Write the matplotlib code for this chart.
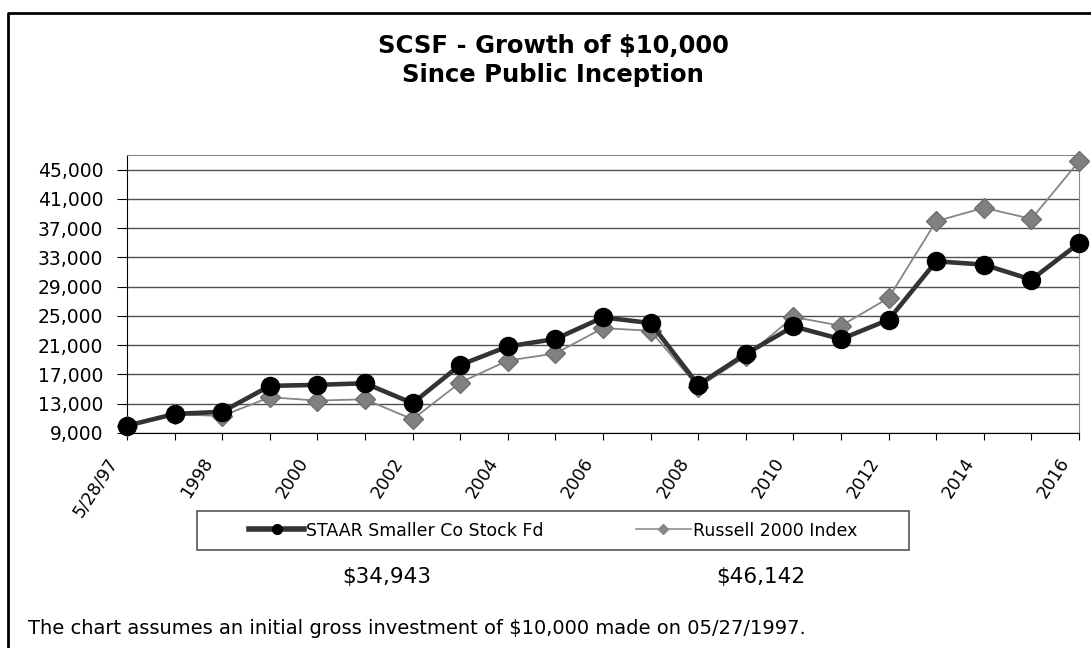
import matplotlib.pyplot as plt
from matplotlib.lines import Line2D
from matplotlib.patches import Rectangle
from matplotlib.ticker import FuncFormatter
from matplotlib.transforms import ScaledTranslation

plt.rcParams['font.family'] = ['DejaVu Sans']

periods = ['5/28/97'] + [str(y) for y in range(1997, 2017)]
staar = [10000, 11600, 11900, 15440, 15580, 15800, 13070, 18300, 20830, 21850,
         24800, 24030, 15580, 19820, 23570, 21830, 24480, 32470, 32020, 29960, 34943]
russell = [10000, 11550, 11330, 13890, 13430, 13610, 10870, 15900, 18900, 19870,
           23340, 22970, 15260, 19460, 24850, 23660, 27450, 37950, 39780, 38270, 46142]
y_ticks = list(range(9000, 45001, 4000))
end_values = ['$34,943', '$46,142']


def main():
    W, H = 1091, 648
    fig = plt.figure(figsize=(W / 100, H / 100), dpi=100)
    ax = fig.add_axes([127 / W, 1 - 433 / H, (1079 - 127) / W, (433 - 155) / H])

    x = list(range(len(periods)))
    ax.plot(x, russell, color='#858585', lw=1.3, marker='D', ms=10,
            mfc='#808080', mec='#6e6e6e', zorder=3, clip_on=False)
    ax.plot(x, staar, color='#333333', lw=3.3, marker='o', ms=13,
            mfc='black', mec='black', zorder=4, clip_on=False)

    ax.set_xlim(0, len(periods) - 1)
    ax.set_ylim(9000, 47000)
    ax.set_yticks(y_ticks)
    ax.yaxis.set_major_formatter(FuncFormatter(lambda v, p: '{:,.0f}'.format(v)))
    ax.grid(axis='y', color='#505050', lw=1)
    ax.set_axisbelow(True)

    ax.set_xticks(x)
    ax.set_xticklabels([p if i % 2 == 0 else '' for i, p in enumerate(periods)],
                       rotation=57, ha='right', va='center', rotation_mode='anchor')
    ax.tick_params(axis='x', direction='out', length=5, labelsize=12.5, pad=14)
    ax.tick_params(axis='y', direction='out', length=7, labelsize=13.5, pad=10)
    shift = ScaledTranslation(-13 / 100, 0, fig.dpi_scale_trans)
    for lbl in ax.get_xticklabels():
        lbl.set_transform(lbl.get_transform() + shift)

    for s in ['top', 'right']:
        ax.spines[s].set_color('#888888')
    for s in ['left', 'bottom']:
        ax.spines[s].set_color('black')

    fig.text(553 / W, 1 - 46 / H, 'SCSF - Growth of $10,000', ha='center', va='center',
             fontsize=17.5, fontweight='bold')
    fig.text(553 / W, 1 - 75 / H, 'Since Public Inception', ha='center', va='center',
             fontsize=17.5, fontweight='bold')

    # legend box drawn separately, entries centred in it
    fig.add_artist(Rectangle((197 / W, 1 - 550 / H), 712 / W, 39 / H, fill=False,
                             edgecolor='#555555', lw=1.2, transform=fig.transFigure))
    handles = [Line2D([], [], color='#333333', lw=4, marker='o', ms=7, mfc='black', mec='black'),
               Line2D([], [], color='#999999', lw=1.3, marker='D', ms=5, mfc='#888888', mec='#888888')]
    fig.legend(handles, ['STAAR Smaller Co Stock Fd', 'Russell 2000 Index'],
               loc='center', ncol=2, bbox_to_anchor=(553 / W, 1 - 530.5 / H),
               frameon=False, fontsize=12.5, handlelength=3.2, handletextpad=0.1,
               columnspacing=5.3, borderaxespad=0)

    fig.text(387 / W, 1 - 577 / H, end_values[0], ha='center', va='center', fontsize=15.5)
    fig.text(761 / W, 1 - 577 / H, end_values[1], ha='center', va='center', fontsize=15.5)
    fig.text(28 / W, 1 - 629 / H,
             'The chart assumes an initial gross investment of $10,000 made on 05/27/1997.',
             ha='left', va='center', fontsize=14)

    # outer frame: only left and top edges are visible
    fig.add_artist(Line2D([8 / W, 8 / W, 1], [0, 1 - 13 / H, 1 - 13 / H],
                          color='black', lw=2, transform=fig.transFigure))

    fig.savefig('out.png', dpi=100)


if __name__ == "__main__":
    main()
